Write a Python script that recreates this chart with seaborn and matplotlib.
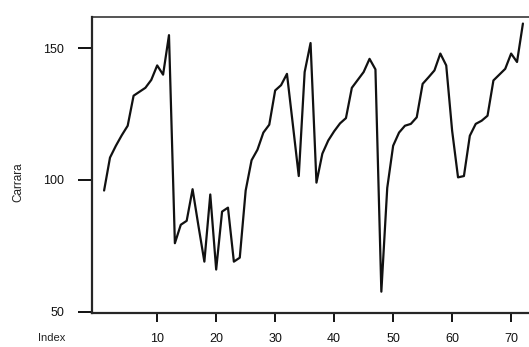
import pandas as pd
import matplotlib
matplotlib.use('Agg')
import matplotlib.pyplot as plt
import seaborn as sns

# valori (serie Carrara, indice 1..72)
carrara = [
    96, 108.5, 113, 117, 120.6, 132, 133.5, 135, 138, 143.5,
    140, 155, 76, 83, 84.5, 96.5, 82.5, 69, 94.5, 66,
    88, 89.5, 69, 70.5, 96, 107.5, 111.5, 118, 121, 134,
    136, 140.3, 121, 101.5, 141, 152, 99, 110, 115, 118.5,
    121.5, 123.5, 135, 138, 141, 146, 142, 57.6, 97, 113,
    118, 120.6, 121.3, 123.8, 136.5, 139, 141.6, 148, 143.5, 118.7,
    101, 101.5, 116.8, 121.3, 122.5, 124.4, 137.8, 140, 142.2, 148,
    144.8, 159.4,
]
x_ticks = [10, 20, 30, 40, 50, 60, 70]
y_ticks = [50, 100, 150]

df = pd.DataFrame({'Index': range(1, len(carrara) + 1), 'Carrara': carrara})

sns.set_style('ticks')
plt.rcParams['font.family'] = ['Liberation Sans', 'DejaVu Sans']

fig = plt.figure(figsize=(5.29, 3.47), dpi=100)
ax = fig.add_axes([92 / 529, 1 - 313 / 347, 1 - 92 / 529 + 0.003, (313 - 16.7) / 347])

sns.lineplot(data=df, x='Index', y='Carrara', color='#111111', linewidth=1.6, ax=ax)

ax.set_xlim(-1.05, 73.3)
ax.set_ylim(49.5, 162)
ax.set_xticks(x_ticks)
ax.set_yticks(y_ticks)
ax.set_xlabel('')
ax.set_ylabel('')

# bordi stile S-Plus: sinistra e sotto spessi, sopra sottile
for side in ['left', 'bottom']:
    ax.spines[side].set_linewidth(1.6)
ax.spines['top'].set_visible(True)
ax.spines['top'].set_linewidth(1.1)
ax.spines['right'].set_visible(False)

ax.tick_params(axis='y', length=10, width=1.4, pad=10, labelsize=9, colors='#111111')
ax.tick_params(axis='x', length=6.5, width=1.4, pad=8, labelsize=9, colors='#111111')

fig.text(18 / 529, 1 - 182 / 347, 'Carrara', rotation=90, ha='center', va='center',
         fontsize=8.5, color='#222222')
fig.text(52 / 529, 1 - 338 / 347, 'Index', ha='center', va='center',
         fontsize=8, color='#222222')

fig.savefig('out.png', dpi=100)
